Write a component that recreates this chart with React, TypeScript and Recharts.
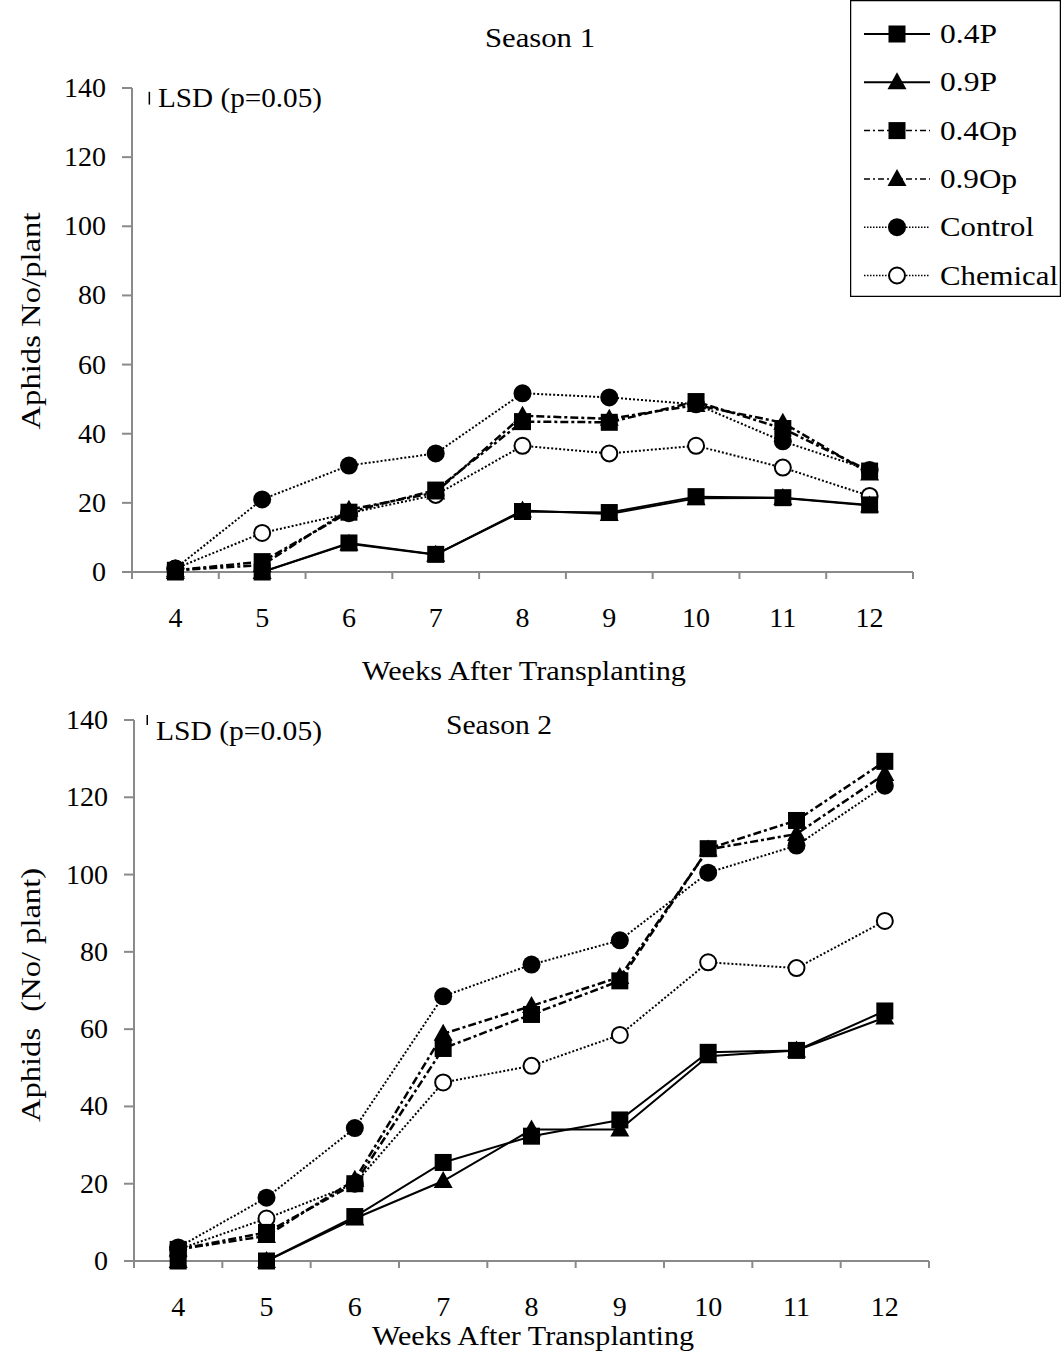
import React from "react";
import { Legend, Line, LineChart, ReferenceLine, XAxis, YAxis } from "recharts";

const weeks = [4, 5, 6, 7, 8, 9, 10, 11, 12];
const yTicks = [0, 20, 40, 60, 80, 100, 120, 140];

// season 1
const s1P04 = [0, 0, 8.4, 5.1, 17.5, 17.2, 21.8, 21.5, 19.4];
const s1P09 = [0, 0, 8.2, 5.0, 17.8, 16.8, 21.3, 21.4, 19.2];
const s1Op04 = [0.5, 3, 17.3, 23.7, 43.5, 43.3, 49.3, 41.5, 29.2];
const s1Op09 = [0.5, 2, 18, 23, 45.2, 44.3, 48.3, 43.2, 28.5];
const s1Control = [1, 21, 30.8, 34.3, 51.7, 50.5, 48.5, 37.8, 29.5];
const s1Chemical = [1, 11.3, 17, 22.3, 36.5, 34.3, 36.5, 30.2, 22];

// season 2
const s2P04 = [0, 0, 11.5, 25.5, 32.3, 36.5, 54, 54.5, 64.7];
const s2P09 = [0, 0, 11, 20.7, 34, 34, 53, 54.5, 63];
const s2Op04 = [3, 7.4, 20, 55, 63.8, 72.5, 106.7, 114, 129.3];
const s2Op09 = [3, 6.5, 21, 58.8, 66, 73.5, 106.5, 110.5, 126];
const s2Control = [3.5, 16.4, 34.4, 68.5, 76.7, 83, 100.5, 107.5, 123];
const s2Chemical = [3, 11, 20, 46.2, 50.5, 58.5, 77.3, 75.8, 88];

// LSD bars (x position in week units, value range)
const lsd1 = { x: 3.7, from: 135.2, to: 138.9 };
const lsd2 = { x: 3.65, from: 138.7, to: 141.3 };

const FONT = '"Liberation Serif", "Times New Roman", serif';
const AXIS = "#8a8a8a";

const build = (p04, p09, op04, op09, ctrl, chem) =>
  weeks.map((w, i) => ({ week: w, p04: p04[i], p09: p09[i], op04: op04[i], op09: op09[i], control: ctrl[i], chemical: chem[i] }));

const season1 = build(s1P04, s1P09, s1Op04, s1Op09, s1Control, s1Chemical);
const season2 = build(s2P04, s2P09, s2Op04, s2Op09, s2Control, s2Chemical);

const Square = ({ cx, cy }: any) => <rect x={cx - 8.5} y={cy - 8.5} width={17} height={17} fill="#000" />;
const Triangle = ({ cx, cy }: any) => (
  <polygon points={`${cx},${cy - 10} ${cx + 9.5},${cy + 7} ${cx - 9.5},${cy + 7}`} fill="#000" />
);
const Dot = ({ cx, cy }: any) => <circle cx={cx} cy={cy} r={9} fill="#000" />;
const Open = ({ cx, cy }: any) => <circle cx={cx} cy={cy} r={8} fill="#fff" stroke="#000" strokeWidth={2} />;

const series = [
  { key: "chemical", name: "Chemical", dash: "2 2", width: 2, shape: Open },
  { key: "control", name: "Control", dash: "2 2", width: 2, shape: Dot },
  { key: "op09", name: "0.9Op", dash: "8 3 3 3", width: 2.5, shape: Triangle },
  { key: "op04", name: "0.4Op", dash: "8 3 3 3", width: 2.5, shape: Square },
  { key: "p09", name: "0.9P", dash: undefined, width: 2, shape: Triangle },
  { key: "p04", name: "0.4P", dash: undefined, width: 2, shape: Square },
];

const legendOrder = ["p04", "p09", "op04", "op09", "control", "chemical"];
const legendWidths: Record<string, number> = { p04: 57, p09: 57, op04: 77, op09: 77, control: 94, chemical: 118 };

function LegendBox() {
  return (
    <svg width={211} height={297} style={{ display: "block" }}>
      <rect x={0.5} y={0.5} width={210} height={296} fill="#fff" stroke="#000" strokeWidth={1.5} />
      {legendOrder.map((k, i) => {
        const s = series.find((d) => d.key === k)!;
        const cy = 34 + i * 48.3;
        const Shape = s.shape;
        return (
          <g key={k}>
            <line x1={14} x2={80} y1={cy} y2={cy} stroke="#000" strokeWidth={s.dash ? 1.5 : 2} strokeDasharray={s.dash === "2 2" ? "1.5 1.5" : s.dash ? "6 3 2 3" : undefined} />
            <Shape cx={47} cy={cy} />
            <text x={90} y={cy + 9} fontFamily={FONT} fontSize={27} textLength={legendWidths[k]} lengthAdjust="spacingAndGlyphs">
              {s.name}
            </text>
          </g>
        );
      })}
    </svg>
  );
}

const makeXTick = (bw: number) => (props: any) => {
  const { x, y, payload, index } = props;
  return (
    <g>
      <line x1={x - bw / 2} x2={x - bw / 2} y1={y} y2={y + 7} stroke={AXIS} strokeWidth={2} />
      {index === weeks.length - 1 && <line x1={x + bw / 2} x2={x + bw / 2} y1={y} y2={y + 7} stroke={AXIS} strokeWidth={2} />}
      <text x={x} y={y + 55} textAnchor="middle" fontFamily={FONT} fontSize={28} fill="#000">
        {payload.value}
      </text>
    </g>
  );
};

const YTick = (props: any) => {
  const { x, y, payload } = props;
  return (
    <g>
      <line x1={x - 10} x2={x} y1={y} y2={y} stroke={AXIS} strokeWidth={2} />
      <text x={x - 26} y={y + 9} textAnchor="end" fontFamily={FONT} fontSize={28} fill="#000">
        {payload.value}
      </text>
    </g>
  );
};

function SeasonChart({ data, height, margin, lsd, legend }: any) {
  const plotW = 1062 - margin.left - 60 - margin.right;
  const XTick = makeXTick(plotW / weeks.length);
  return (
    <LineChart width={1062} height={height} data={data} margin={margin}>
      <XAxis
        dataKey="week"
        type="number"
        domain={[3.5, 12.5]}
        ticks={weeks}
        height={60}
        tickSize={0}
        tickMargin={0}
        tickLine={false}
        stroke={AXIS}
        axisLine={{ stroke: AXIS, strokeWidth: 2 }}
        tick={XTick}
        interval={0}
      />
      <YAxis
        domain={[0, 140]}
        ticks={yTicks}
        width={60}
        tickSize={0}
        tickMargin={0}
        tickLine={false}
        axisLine={{ stroke: AXIS, strokeWidth: 2 }}
        tick={YTick}
        interval={0}
      />
      <ReferenceLine
        segment={[
          { x: lsd.x, y: lsd.from },
          { x: lsd.x, y: lsd.to },
        ]}
        stroke="#000"
        strokeWidth={1.5}
        ifOverflow="visible"
      />
      {series.map((s) => (
        <Line
          key={s.key}
          dataKey={s.key}
          name={s.name}
          stroke="#000"
          strokeWidth={s.width}
          strokeDasharray={s.dash}
          dot={s.shape}
          activeDot={false}
          isAnimationActive={false}
        />
      ))}
      {legend && (
        <Legend
          layout="vertical"
          align="center"
          verticalAlign="middle"
          content={() => <LegendBox />}
          wrapperStyle={{ position: "absolute", left: 850, top: 0, width: 211, height: 297 }}
        />
      )}
    </LineChart>
  );
}

export default function App() {
  const txt = { fontFamily: FONT, fontSize: 28, fill: "#000" } as const;
  return (
    <div style={{ position: "absolute", left: 0, top: 0, width: 1062, height: 1353, background: "#fff" }}>
      <div style={{ position: "absolute", left: 0, top: 0 }}>
        <SeasonChart data={season1} height={680} margin={{ top: 88, right: 149, bottom: 48, left: 72 }} lsd={lsd1} legend />
      </div>
      <div style={{ position: "absolute", left: 0, top: 680 }}>
        <SeasonChart data={season2} height={673} margin={{ top: 40, right: 133, bottom: 32, left: 74 }} lsd={lsd2} />
      </div>
      <svg width={1062} height={1353} style={{ position: "absolute", left: 0, top: 0, pointerEvents: "none" }}>
        <text x={540} y={47} textAnchor="middle" {...txt} textLength={110} lengthAdjust="spacingAndGlyphs">Season 1</text>
        <text x={499} y={734} textAnchor="middle" {...txt} textLength={106} lengthAdjust="spacingAndGlyphs">Season 2</text>
        <text x={158} y={107} {...txt} textLength={164} lengthAdjust="spacingAndGlyphs">LSD (p=0.05)</text>
        <text x={156} y={740} {...txt} textLength={166} lengthAdjust="spacingAndGlyphs">LSD (p=0.05)</text>
        <text x={524} y={680} textAnchor="middle" {...txt} textLength={324} lengthAdjust="spacingAndGlyphs">Weeks After Transplanting</text>
        <text x={533} y={1345} textAnchor="middle" {...txt} textLength={322} lengthAdjust="spacingAndGlyphs">Weeks After Transplanting</text>
        <text transform="translate(40,321) rotate(-90)" textAnchor="middle" {...txt} textLength={217} lengthAdjust="spacingAndGlyphs">Aphids No/plant</text>
        <text transform="translate(40,995) rotate(-90)" textAnchor="middle" {...txt} textLength={254} lengthAdjust="spacingAndGlyphs" xmlSpace="preserve">Aphids  (No/ plant)</text>
      </svg>
    </div>
  );
}
